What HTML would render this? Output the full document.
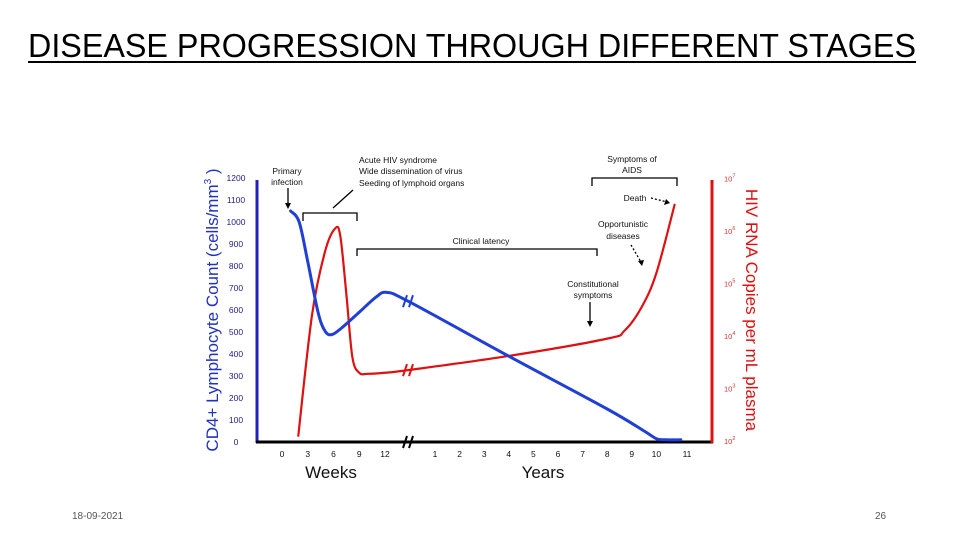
<!DOCTYPE html>
<html><head><meta charset="utf-8"><style>
html,body{margin:0;padding:0;background:#fff;width:960px;height:540px;overflow:hidden}
svg{display:block;font-family:"Liberation Sans",sans-serif}
</style></head><body>
<svg id="chart" width="960" height="540" viewBox="0 0 960 540">
<text x="28" y="57" font-size="33" textLength="888" lengthAdjust="spacingAndGlyphs" fill="#000">DISEASE PROGRESSION THROUGH DIFFERENT STAGES</text>
<rect x="28" y="61" width="888" height="2" fill="#000"/>
<text x="72" y="519" font-size="10" fill="#555">18-09-2021</text>
<text x="875" y="519" font-size="10" fill="#555">26</text>

<line x1="257" y1="180" x2="257" y2="443" stroke="#2222bb" stroke-width="3"/>
<line x1="256" y1="442" x2="713" y2="442" stroke="#000" stroke-width="3"/>
<line x1="712" y1="180" x2="712" y2="443" stroke="#dd1111" stroke-width="3"/>
<text transform="translate(218,310) rotate(-90)" text-anchor="middle" font-size="17" fill="#2233bb">CD4+ Lymphocyte Count (cells/mm<tspan font-size="10" dy="-7">3</tspan><tspan dy="7"> )</tspan></text>
<text transform="translate(746,310) rotate(90)" text-anchor="middle" font-size="17" fill="#dd1111">HIV RNA Copies per mL plasma</text>
<text x="331" y="478" text-anchor="middle" font-size="17" fill="#111">Weeks</text>
<text x="543" y="478" text-anchor="middle" font-size="17" fill="#111">Years</text>

<g fill="none" stroke="#000" stroke-width="1.3">
<path d="M303 221 V213 H357 V221"/>
<path d="M357 256 V249 H597 V256"/>
<path d="M592 186 V178 H677 V186"/>
<path d="M288 188 L288 205"/>
<path d="M333 208 L353 190"/>
<path d="M590 302 V323"/>
<path d="M651 198 L667 202" stroke-dasharray="2,2"/>
<path d="M631 245 L641 262" stroke-dasharray="2,2"/>
</g>
<g fill="#000">
<path d="M285 203 L291 203 L288 209Z"/><path d="M587 321 L593 321 L590 327Z"/>
<path d="M666 199 L670 203 L664 205Z"/><path d="M638 261 L644 260 L642 266Z"/>
</g>
<g font-size="8.5" fill="#111" text-anchor="middle">
<text x="287" y="174">Primary</text>
<text x="287" y="185">infection</text>
<text x="359" y="163" text-anchor="start">Acute HIV syndrome</text>
<text x="359" y="174" text-anchor="start">Wide dissemination of virus</text>
<text x="359" y="186" text-anchor="start">Seeding of lymphoid organs</text>
<text x="481" y="244">Clinical latency</text>
<text x="632" y="162">Symptoms of</text>
<text x="632" y="173">AIDS</text>
<text x="635" y="201">Death</text>
<text x="623" y="227">Opportunistic</text>
<text x="623" y="239">diseases</text>
<text x="593" y="287">Constitutional</text>
<text x="593" y="298">symptoms</text>
</g>
<g id="ticks"></g>
<g id="series"></g>
</svg>
<script>
const cd4Ticks=[0,100,200,300,400,500,600,700,800,900,1000,1100,1200];
const logTicks=[2,3,4,5,6,7];
const weekTicks=[0,3,6,9,12];
const yearTicks=[1,2,3,4,5,6,7,8,9,10,11];
const cd4Weeks=[[1,1050],[2,1000],[3,820],[4.2,590],[5,505],[5.8,488],[7,520],[9,590],[11,660],[12.2,680],[14.7,640]];
const cd4Years=[[-0.1,640],[4,390],[8,150],[9.5,50],[10,15],[10.3,10],[10.8,10]];
const rnaWeeks=[[1.9,2.1],[3.5,4.4],[5,5.6],[6.2,6.05],[6.8,5.9],[7.5,4.8],[8.2,3.6],[9,3.3],[10,3.28],[12,3.3],[14.7,3.35]];
const rnaYears=[[-0.1,3.35],[4,3.62],[8,3.95],[8.7,4.1],[9.4,4.55],[10,5.2],[10.6,6.5]];

const NS="http://www.w3.org/2000/svg";
const xW=w=>282+w*8.58;
const xY=y=>y<=10?435+(y-1)*24.6:656+(y-10)*31;
const yC=v=>442-v*0.22;
const yL=l=>441-(l-2)*52.5;
const tg=document.getElementById('ticks'), sg=document.getElementById('series');
function txt(x,y,s,fill,anchor,size){const t=document.createElementNS(NS,'text');t.setAttribute('x',x);t.setAttribute('y',y);t.setAttribute('fill',fill);t.setAttribute('font-size',size);t.setAttribute('text-anchor',anchor);t.textContent=s;tg.appendChild(t);return t;}
cd4Ticks.forEach(v=>{const t=txt(236,yC(v)+3,v,'#222288','middle',8.5);

});
logTicks.forEach(l=>{const t=txt(724,yL(l)+3,'10','#cc3333','start',7.5);


const s=document.createElementNS(NS,'tspan');s.setAttribute('font-size','5.5');s.setAttribute('dy','-4');s.textContent=l;t.appendChild(s);});
weekTicks.forEach(w=>{const t=txt(xW(w),457,w,'#111','middle',8.5);

});
yearTicks.forEach(y=>{const t=txt(xY(y),457,y,'#111','middle',8.5);

});
function smooth(pts){let d='M'+pts[0][0]+' '+pts[0][1];for(let i=0;i<pts.length-1;i++){const p0=pts[i-1]||pts[i],p1=pts[i],p2=pts[i+1],p3=pts[i+2]||p2;
d+=' C'+(p1[0]+(p2[0]-p0[0])/6)+' '+(p1[1]+(p2[1]-p0[1])/6)+' '+(p2[0]-(p3[0]-p1[0])/6)+' '+(p2[1]-(p3[1]-p1[1])/6)+' '+p2[0]+' '+p2[1];}return d;}
function line(pts,color,w,name){const p=document.createElementNS(NS,'path');p.setAttribute('d',smooth(pts));p.setAttribute('fill','none');p.setAttribute('stroke',color);p.setAttribute('stroke-width',w);p.setAttribute('stroke-linecap','round');


sg.appendChild(p);}
line(rnaWeeks.map(d=>[xW(d[0]),yL(d[1])]).concat(rnaYears.slice(1).map(d=>[xY(d[0]),yL(d[1])])),'#dd1111',2.2,'viral-load-line');
line(cd4Weeks.map(d=>[xW(d[0]),yC(d[1])]).concat(cd4Years.slice(1).map(d=>[xY(d[0]),yC(d[1])])),'#1f3fd6',3,'cd4-line');
function brk(x,y,c,name){const p=document.createElementNS(NS,'path');p.setAttribute('d',`M${x-5} ${y+6} L${x-1} ${y-6} M${x+1} ${y+6} L${x+5} ${y-6}`);p.setAttribute('stroke',c);p.setAttribute('stroke-width',2);


sg.appendChild(p);}
brk(408,yC(640),'#1f3fd6','cd4-break-mark');
brk(408,yL(3.35),'#dd1111','viral-load-break-mark');
brk(408,442,'#000','axis-break-mark');
</script>
</body></html>
